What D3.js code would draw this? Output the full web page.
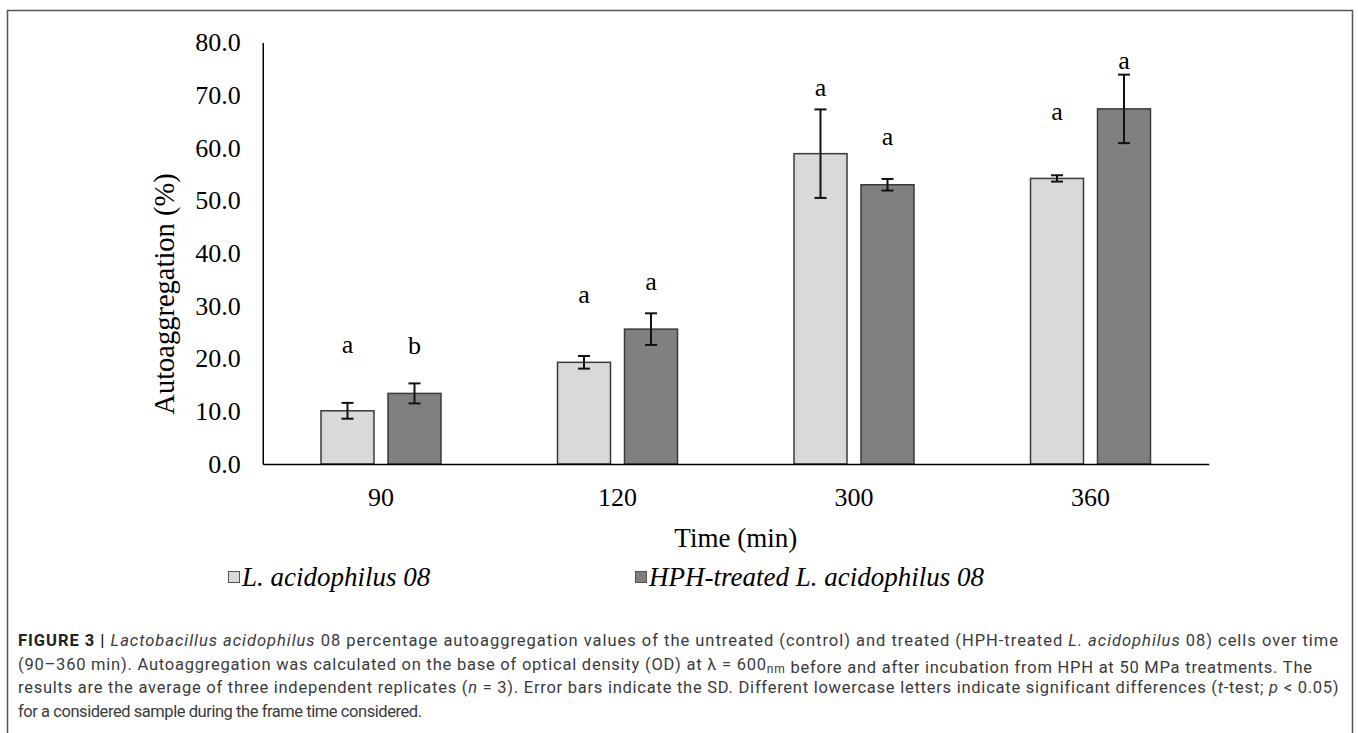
<!DOCTYPE html>
<html>
<head>
<meta charset="utf-8">
<script src="https://cdn.jsdelivr.net/npm/d3@7"></script>
<style>
  body { margin: 0; background: #fff; }
  svg { display: block; }
</style>
</head>
<body>
<div id="chart-area"></div>
<script>
// data
var times = ['90', '120', '300', '360']
var series = ['L. acidophilus 08', 'HPH-treated L. acidophilus 08']
var controlMean = [10.1, 19.3, 58.9, 54.2]
var controlSD = [1.5, 1.2, 8.4, 0.6]
var treatedMean = [13.4, 25.6, 53.0, 67.4]
var treatedSD = [1.9, 3.0, 1.1, 6.5]
var controlLetters = ['a', 'a', 'a', 'a']
var treatedLetters = ['b', 'a', 'a', 'a']
// height (in % units) at which the letters sit
var controlLetterAt = [21.1, 30.5, 69.9, 65.2]
var treatedLetterAt = [20.9, 33.1, 60.6, 74.9]
var yTicks = [0, 10, 20, 30, 40, 50, 60, 70, 80]

var W = 1358, H = 733
var fills = ['#d9d9d9', '#808080']
var serif = '"Liberation Serif", "Times New Roman", serif'
var sans = 'Roboto, "Liberation Sans", Arial, sans-serif'

var svg = d3.select('#chart-area').append('svg')
  .attr('width', W)
  .attr('height', H)

// outer frame of the figure
svg.append('rect')
  .attr('x', 7.5).attr('y', 10.5)
  .attr('width', 1345).attr('height', 740)
  .attr('fill', 'none')
  .attr('stroke', '#555')
  .attr('stroke-width', 1.5)

// scales
var xScale = d3.scaleBand()
  .domain(times)
  .range([262.75, 1208.75])

var xInner = d3.scaleBand()
  .domain(series)
  .range([58.25, 178.25])
  .paddingInner(14 / 67)

var yScale = d3.scaleLinear()
  .domain([0, 80])
  .range([464, 42.5])

// build rows for the bars
var rows = []
times.forEach(function(t, i){
  rows.push({time: t, s: series[0], k: 0, v: controlMean[i], sd: controlSD[i], lab: controlLetters[i], labAt: controlLetterAt[i]})
  rows.push({time: t, s: series[1], k: 1, v: treatedMean[i], sd: treatedSD[i], lab: treatedLetters[i], labAt: treatedLetterAt[i]})
})

function mid(d){ return xScale(d.time) + xInner(d.s) + xInner.bandwidth() / 2 }

// y axis
var yAxis = d3.axisLeft(yScale)
  .tickValues(yTicks)
  .tickSize(0)
  .tickPadding(22)
  .tickFormat(d3.format('.1f'))

var gy = svg.append('g')
  .attr('transform', 'translate(262.75,0)')
  .call(yAxis)
gy.select('.domain').attr('stroke', '#000').attr('stroke-width', 1.5)
gy.selectAll('text')
  .attr('font-family', serif)
  .attr('font-size', '26px')
  .attr('fill', '#000')

// bars
svg.selectAll('rect.bar')
  .data(rows)
  .enter()
  .append('rect')
  .attr('class', 'bar')
  .attr('x', function(d){ return xScale(d.time) + xInner(d.s) })
  .attr('y', function(d){ return yScale(d.v) })
  .attr('width', xInner.bandwidth())
  .attr('height', function(d){ return yScale(0) - yScale(d.v) })
  .attr('fill', function(d){ return fills[d.k] })
  .attr('stroke', '#3a3a3a')
  .attr('stroke-width', 1.5)

// x axis (drawn after bars so it sits on top)
var xAxis = d3.axisBottom(xScale)
  .tickSize(0)
  .tickPadding(24)

var gx = svg.append('g')
  .attr('transform', 'translate(0,464)')
  .call(xAxis)
gx.select('.domain').attr('stroke', '#000').attr('stroke-width', 1.5)
gx.selectAll('text')
  .attr('font-family', serif)
  .attr('font-size', '26px')
  .attr('fill', '#000')

// error bars
var eb = svg.selectAll('g.err')
  .data(rows)
  .enter()
  .append('g')
  .attr('class', 'err')
  .attr('stroke', '#111')
  .attr('stroke-width', 2)

eb.append('line')
  .attr('x1', mid)
  .attr('x2', mid)
  .attr('y1', function(d){ return yScale(d.v + d.sd) })
  .attr('y2', function(d){ return yScale(d.v - d.sd) })

eb.selectAll('line.cap')
  .data(function(d){ return [d.v + d.sd, d.v - d.sd].map(function(y){ return {d: d, y: y} }) })
  .enter()
  .append('line')
  .attr('class', 'cap')
  .attr('x1', function(c){ return mid(c.d) - 6 })
  .attr('x2', function(c){ return mid(c.d) + 6 })
  .attr('y1', function(c){ return yScale(c.y) })
  .attr('y2', function(c){ return yScale(c.y) })

// significance letters
svg.selectAll('text.sig')
  .data(rows)
  .enter()
  .append('text')
  .attr('class', 'sig')
  .attr('x', mid)
  .attr('y', function(d){ return yScale(d.labAt) })
  .attr('text-anchor', 'middle')
  .attr('font-family', serif)
  .attr('font-size', '26px')
  .text(function(d){ return d.lab })

// axis titles
svg.append('text')
  .attr('transform', 'translate(174,294) rotate(-90)')
  .attr('text-anchor', 'middle')
  .attr('font-family', serif)
  .attr('font-size', '28.5px')
  .text('Autoaggregation (%)')

svg.append('text')
  .attr('x', 735.75)
  .attr('y', 547)
  .attr('text-anchor', 'middle')
  .attr('font-family', serif)
  .attr('font-size', '27px')
  .text('Time (min)')

// legend, Excel style: equal slot for each entry
var legX = [228, 635]
var leg = svg.selectAll('g.leg')
  .data(series)
  .enter()
  .append('g')
  .attr('class', 'leg')
  .attr('transform', function(d, i){ return 'translate(' + legX[i] + ',571)' })

leg.append('rect')
  .attr('x', 0.5).attr('y', 0.5)
  .attr('width', 11).attr('height', 11)
  .attr('fill', function(d, i){ return fills[i] })
  .attr('stroke', '#555')
  .attr('stroke-width', 1)

leg.append('text')
  .attr('x', 14)
  .attr('y', 15)
  .attr('font-family', serif)
  .attr('font-style', 'italic')
  .attr('font-size', '27px')
  .text(function(d){ return d })

// caption, each line as runs of plain / italic / bold text
var captionLines = [
  [['FIGURE 3 | ', 'b'], ['Lactobacillus acidophilus', 'i'], [' 08 percentage autoaggregation values of the untreated (control) and treated (HPH-treated ', ''], ['L. acidophilus', 'i'], [' 08) cells over time', '']],
  [['(90\u2013360 min). Autoaggregation was calculated on the base of optical density (OD) at \u03bb = 600', ''], ['nm', 'sub'], [' before and after incubation from HPH at 50 MPa treatments. The', '']],
  [['results are the average of three independent replicates (', ''], ['n', 'i'], [' = 3). Error bars indicate the SD. Different lowercase letters indicate significant differences (', ''], ['t', 'i'], ['-test; ', ''], ['p', 'i'], [' < 0.05)', '']],
  [['for a considered sample during the frame time considered.', '']]
]
var captionWidth = [1320, 1294, 1320, 404]

var cap = svg.append('g')
  .attr('font-family', sans)
  .attr('font-size', '16.5px')
  .attr('fill', '#3a3a3a')

captionLines.forEach(function(line, i){
  var t = cap.append('text')
    .attr('x', 18)
    .attr('y', 646 + i * 23.5)
  line.forEach(function(run){
    var ts = t.append('tspan').text(run[0])
    if (run[1] == 'b') ts.attr('font-weight', 'bold').attr('fill', '#222')
    if (run[1] == 'i') ts.attr('font-style', 'italic')
    if (run[1] == 'sub') ts.attr('font-size', '12px').attr('dy', 3)
    if (run[1] == 'sub') t.append('tspan').attr('dy', -3).text('')
  })
  // stretch lines to the justified width of the original
  var w = t.node().getComputedTextLength()
  var n = t.text().length - 1
  t.attr('letter-spacing', (captionWidth[i] - w) / n)
})
</script>
</body>
</html>
